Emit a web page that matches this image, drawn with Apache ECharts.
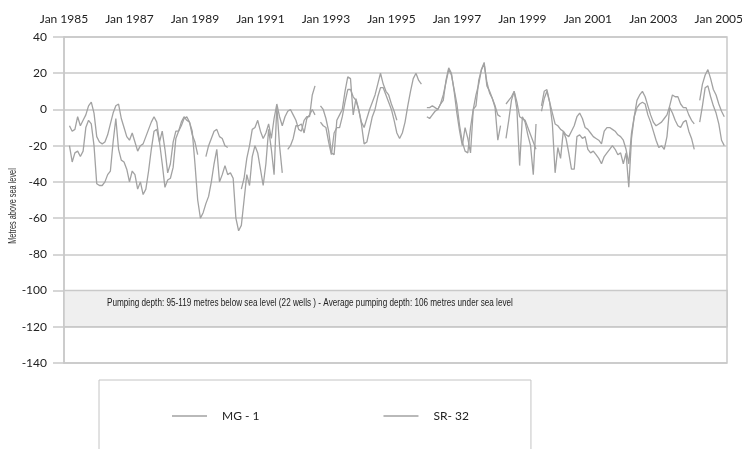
<!DOCTYPE html>
<html>
<head>
<meta charset="utf-8">
<script src="https://cdn.jsdelivr.net/npm/echarts@6/dist/echarts.min.js"></script>
<style>
  html, body { margin: 0; padding: 0; background: #fff; }
  #chart { width: 742px; height: 449px; }
</style>
</head>
<body>
<div id="chart"></div>
<script>
// Monthly groundwater levels, Jan 1985 – Apr 2005 (metres above sea level)
const firstYear = 1985;
const monthCount = 244;
const monthNames = ['Jan', 'Feb', 'Mar', 'Apr', 'May', 'Jun', 'Jul', 'Aug', 'Sep', 'Oct', 'Nov', 'Dec'];
const months = [];
for (let i = 0; i < monthCount; i++) {
  months.push(monthNames[i % 12] + ' ' + (firstYear + Math.floor(i / 12)));
}
const labelEveryMonths = 24;

const seriesNames = ['MG - 1', 'SR- 32'];

const mg1 = [
  null, null, -9, -12, -11, -4, -9, -6, -3, 2,
  4, -2, -15, -18, -19, -18, -14, -8, -2, 2,
  3, -5, -10, -15, -17, -13, -18, -23, -20, -19,
  -15, -11, -7, -4, -7, -18, -12, -22, -35, -30,
  -18, -12, -12, -7, -4, -6, -7, -14, -18, -25,
  null, null, -26, -20, -16, -12, -11, -15, -16, -20,
  -21, null, null, null, null, -44, -38, -27, -20, -11,
  -10, -6, -12, -16, -13, -8, -16, -5, 3, -4,
  -9, -4, -1, 0, -3, -6, -11, -12, -6, -4,
  -4, 8, 13, null, 2, 0, -5, -12, -24, -25,
  -6, -3, 0, 10, 18, 17, -3, 6, 0, -7,
  -10, -5, 0, 4, 8, 14, 20, 14, 10, 8,
  3, -1, -6, null, null, null, null, null, null, null,
  null, null, null, 1, 1, 2, 1, 0, 3, 5,
  16, 23, 20, 10, -2, -12, -20, -10, -16, -24,
  0, 2, 16, 22, 26, 13, 10, 6, 1, -17,
  -9, null, 3, 5, 7, 10, 4, -4, -5, -6,
  -10, -14, -18, -22, null, 2, 10, 11, 4, -2,
  -8, -9, -11, -12, -14, -15, -12, -9, -4, -2,
  -5, -10, -11, -13, -15, -16, -17, -19, -12, -10,
  -10, -11, -12, -14, -15, -17, -22, -30, -13, -4,
  5, 8, 10, 7, 2, -3, -7, -9, -8, -7,
  -5, -3, 2, 8, 7, 7, 3, 1, 1, -3,
  -6, -8, null, 5, 14, 19, 22, 17, 11, 8,
  3, -1, -4, null
];

const sr32 = [
  null, null, -20, -29, -24, -23, -26, -23, -10, -6,
  -8, -20, -41, -42, -42, -40, -36, -34, -18, -5,
  -22, -28, -29, -33, -40, -34, -36, -44, -40, -47,
  -44, -34, -22, -12, -11, -18, -30, -43, -39, -38,
  -32, -16, -12, -9, -5, -4, -7, -12, -30, -50,
  -60, -57, -52, -48, -40, -30, -22, -40, -36, -31,
  -36, -35, -38, -60, -67, -64, -50, -36, -42, -26,
  -20, -24, -33, -42, -30, -11, -22, -36, 2, -20,
  -35, null, -22, -20, -16, -9, -9, -8, -13, -5,
  -3, 0, -3, null, -7, -9, -10, -18, -25, -13,
  -10, -10, -4, 4, 11, 11, 7, 5, 0, -8,
  -19, -18, -11, -4, 0, 7, 12, 12, 8, 4,
  0, -6, -13, -16, -13, -7, 2, 10, 17, 20,
  16, 14, null, -4, -5, -3, -1, 0, 3, 8,
  15, 22, 19, 11, 3, -9, -18, -23, -24, -10,
  0, 8, 14, 22, 25, 15, 9, 6, 2, -3,
  -4, null, -16, -6, 5, 10, 0, -31, -4, -7,
  -14, -20, -36, -8, null, -1, 6, 10, 4, -8,
  -35, -21, -27, -12, -16, -24, -33, -33, -15, -14,
  -16, -15, -22, -24, -23, -25, -27, -30, -26, -24,
  -22, -20, -22, -25, -24, -30, -24, -43, -16, -4,
  1, 3, 4, 3, -3, -7, -12, -17, -21, -20,
  -22, -15, 1, -2, -6, -9, -10, -7, -6, -12,
  -16, -22, null, -7, 2, 12, 13, 7, 2, -2,
  -8, -17, -20, null
];

const yRange = { min: -140, max: 40, step: 20 };
const pumpingBand = [-100, -120];
const pumpingText = 'Pumping depth: 95-119 metres below sea level (22 wells ) - Average pumping depth: 106 metres under sea level';
const yAxisTitle = 'Metres above sea level';

const gridGrey = '#c9c9c9';
const lineGrey = '#a2a2a2';
const labelFont = 'Lato, "Open Sans", sans-serif';
const noteFont = '"Liberation Sans", sans-serif';

const chart = echarts.init(document.getElementById('chart'), null, { renderer: 'canvas' });

chart.setOption({
  animation: false,
  backgroundColor: '#fff',
  grid: {
    left: 64, right: 15, top: 37, bottom: 86,
    outerBoundsMode: 'none',
    containLabel: false,
    show: true, borderColor: gridGrey, borderWidth: 1.5
  },
  legend: {
    left: 99, top: 380,
    padding: [30, 62, 40, 73],
    itemGap: 124,
    icon: 'rect',
    itemWidth: 35, itemHeight: 1.4,
    borderColor: '#c4c4c4', borderWidth: 1,
    data: seriesNames,
    textStyle: { fontFamily: labelFont, fontSize: 12, color: '#222', padding: [0, 0, 0, 10] }
  },
  // Condensed captions: the band note and the vertical axis title
  graphic: [
    {
      type: 'text',
      x: 107, y: 303,
      scaleX: 0.71,
      silent: true,
      z: 10,
      style: {
        text: pumpingText,
        font: '11.5px ' + noteFont,
        fill: '#222',
        verticalAlign: 'middle'
      }
    },
    {
      type: 'text',
      x: 13, y: 206,
      rotation: Math.PI / 2,
      scaleX: 0.7,
      silent: true,
      z: 10,
      style: {
        text: yAxisTitle,
        font: '10.5px ' + noteFont,
        fill: '#333',
        align: 'center',
        verticalAlign: 'middle'
      }
    }
  ],
  xAxis: {
    type: 'category',
    data: months,
    position: 'top',
    boundaryGap: false,
    axisLine: { show: false },
    axisTick: { show: false },
    splitLine: { show: false },
    axisLabel: {
      interval: (idx) => idx % labelEveryMonths === 0,
      margin: 12,
      fontFamily: labelFont, fontSize: 12, color: '#222'
    }
  },
  yAxis: {
    type: 'value',
    min: yRange.min, max: yRange.max, interval: yRange.step,
    axisLine: { show: true, lineStyle: { color: gridGrey, width: 1.5 } },
    axisTick: { show: true, length: 11, lineStyle: { color: gridGrey, width: 1.5 } },
    splitLine: { lineStyle: { color: gridGrey, width: 1.5 } },
    axisLabel: { margin: 17, fontFamily: labelFont, fontSize: 12, color: '#222' }
  },
  series: [
    {
      name: seriesNames[0],
      type: 'line',
      data: mg1,
      symbol: 'none',
      connectNulls: false,
      lineStyle: { color: lineGrey, width: 1.3 },
      itemStyle: { color: lineGrey },
      markArea: {
        silent: true,
        itemStyle: { color: '#efefef', borderColor: gridGrey, borderWidth: 1.5 },
        data: [[{ yAxis: pumpingBand[0] }, { yAxis: pumpingBand[1] }]]
      },
      z: 3
    },
    {
      name: seriesNames[1],
      type: 'line',
      data: sr32,
      symbol: 'none',
      connectNulls: false,
      lineStyle: { color: lineGrey, width: 1.3 },
      itemStyle: { color: lineGrey },
      z: 3
    }
  ]
});
</script>
</body>
</html>
